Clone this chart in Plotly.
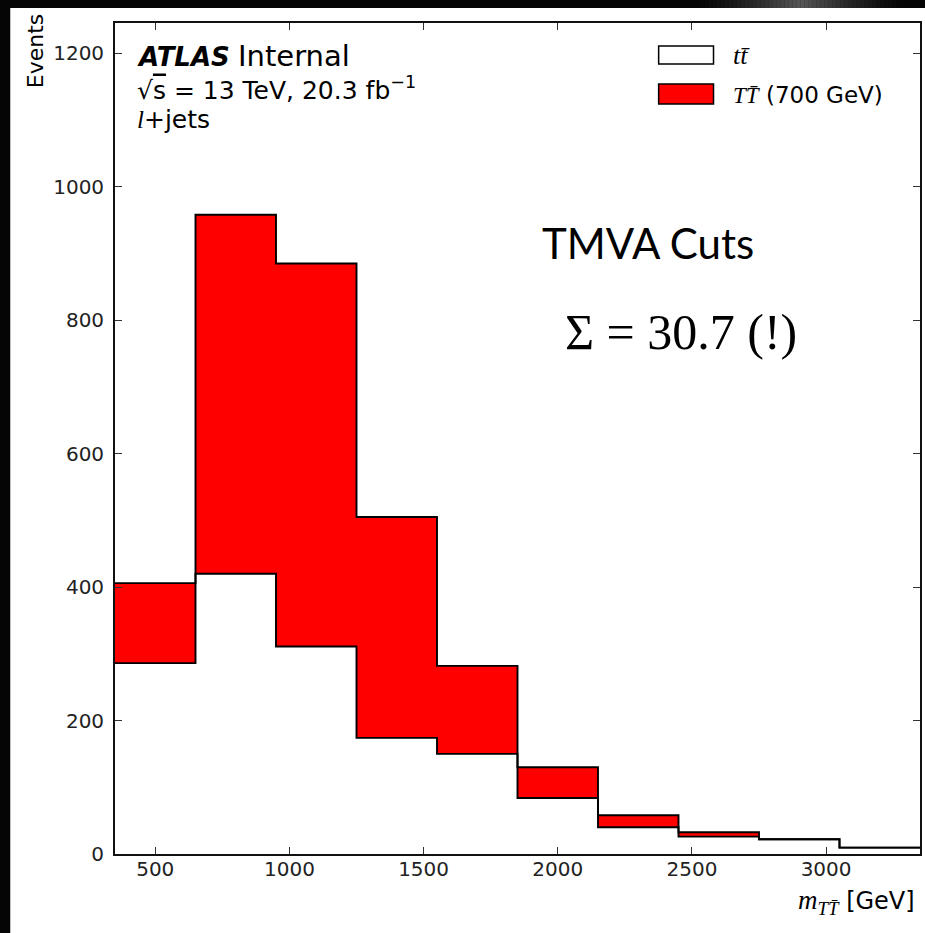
import plotly.graph_objects as go

# Binning and per-bin event yields (stacked: ttbar at the bottom, T Tbar on top)
bin_edges = [350, 650, 950, 1250, 1550, 1850, 2150, 2450, 2750, 3050, 3350]
ttbar_events = [286, 420, 311, 174, 150, 84, 40, 26, 22, 9.5]
tprime_events = [120, 538, 574, 331, 132, 46, 18, 6.5, 0, 0]

x_ticks = [500, 1000, 1500, 2000, 2500, 3000]
y_ticks = [0, 200, 400, 600, 800, 1000, 1200]

W, H = 925, 933
ML, MR, MT, MB = 115, 3, 23, 79
PW, PH = W - ML - MR, H - MT - MB


def px(x):
    return (x - ML) / PW


def py(y):
    return (H - MB - y) / PH


stack_total = [a + b for a, b in zip(ttbar_events, tprime_events)]
y_max = 1.3 * max(stack_total)


def step(vals):
    return vals + [vals[-1]]


fig = go.Figure()
fig.add_trace(go.Scatter(
    x=bin_edges, y=step(ttbar_events), mode="lines", line_shape="hv",
    line=dict(color="black", width=1.9), fill="tozeroy", fillcolor="white",
    name="tt̄", showlegend=False, hoverinfo="skip"))
fig.add_trace(go.Scatter(
    x=bin_edges, y=step(stack_total), mode="lines", line_shape="hv",
    line=dict(color="black", width=1.9), fill="tonexty", fillcolor="#ff0000",
    name="TT̄ (700 GeV)", showlegend=False, hoverinfo="skip"))

sans = "DejaVu Sans"
serif = "Liberation Serif"
axis_common = dict(
    showgrid=False, zeroline=False, showline=True, linecolor="#111", linewidth=1.8,
    mirror="allticks", ticks="inside", ticklen=7, tickwidth=1, tickcolor="#333",
    tickfont=dict(family=sans, size=20, color="#222"),
)
fig.update_xaxes(range=[bin_edges[0], bin_edges[-1]], tickvals=x_ticks,
                 ticklabelstandoff=-4, **axis_common)
fig.update_yaxes(range=[0, y_max], tickvals=y_ticks, ticklabelstandoff=5,
                 **axis_common)

shapes = [
    # white figure canvas on the dark page
    dict(type="rect", xref="paper", yref="paper", x0=px(10), x1=px(W + 5),
         y0=py(H + 5), y1=py(8), fillcolor="white", line_width=0, layer="below"),
]
# soft grey sheen along the top edge of the page, built from thin fading slices
centre, half = 800, 110
for i in range(-half, half, 4):
    strength = max(0.0, 1 - abs(i) / half) ** 1.5
    shapes.append(dict(type="rect", xref="paper", yref="paper",
                       x0=px(centre + i), x1=px(centre + i + 4),
                       y0=py(8), y1=py(0), fillcolor="#9a9a9a",
                       opacity=round(0.55 * strength, 3), line_width=0, layer="below"))
shapes += [
    # legend handles
    dict(type="rect", xref="paper", yref="paper", x0=px(660), x1=px(715),
         y0=py(64), y1=py(46), fillcolor="white", line=dict(color="black", width=1.5)),
    dict(type="rect", xref="paper", yref="paper", x0=px(660), x1=px(715),
         y0=py(104), y1=py(84), fillcolor="#ff0000", line=dict(color="black", width=1.5)),
]


def label(text, x, y, size, family=sans, xanchor="left", yanchor="middle", **kw):
    return dict(text=text, x=px(x), y=py(y), xref="paper", yref="paper",
                xanchor=xanchor, yanchor=yanchor, showarrow=False,
                font=dict(family=family, size=size, color="black"), **kw)


annotations = [
    label("<b><i>ATLAS</i></b> <span style='font-size:29px'>Internal</span>", 135, 56, 26),
    label("√<span style='text-decoration:overline'>s</span> = 13 TeV, 20.3 fb<sup>−1</sup>",
          135, 88, 25),
    label(f"<span style='font-family:{serif}'><i>l</i></span>+jets", 135, 120, 25),
    label(f"<span style='font-family:{serif}'><i>tt̄</i></span>", 733, 55, 26),
    label(f"<span style='font-family:{serif}'><i>TT̄</i></span> (700 GeV)", 733, 95, 23),
    label("TMVA Cuts", 541, 243, 42, family="Lato"),
    label("Σ = 30.7 (!)", 564, 332, 50, family=serif),
    label("Events", 35, 51, 22, xanchor="center", textangle=-90),
    label(f"<span style='font-family:{serif};font-size:27px'><i>m</i><sub><i>TT̄</i></sub></span> [GeV]",
          919, 902, 24, xanchor="right"),
]

fig.update_layout(
    width=W, height=H, margin=dict(l=ML, r=MR, t=MT, b=MB, pad=0),
    paper_bgcolor="#050505", plot_bgcolor="white",
    shapes=shapes, annotations=annotations, showlegend=False,
)

fig.write_html("out.html")
